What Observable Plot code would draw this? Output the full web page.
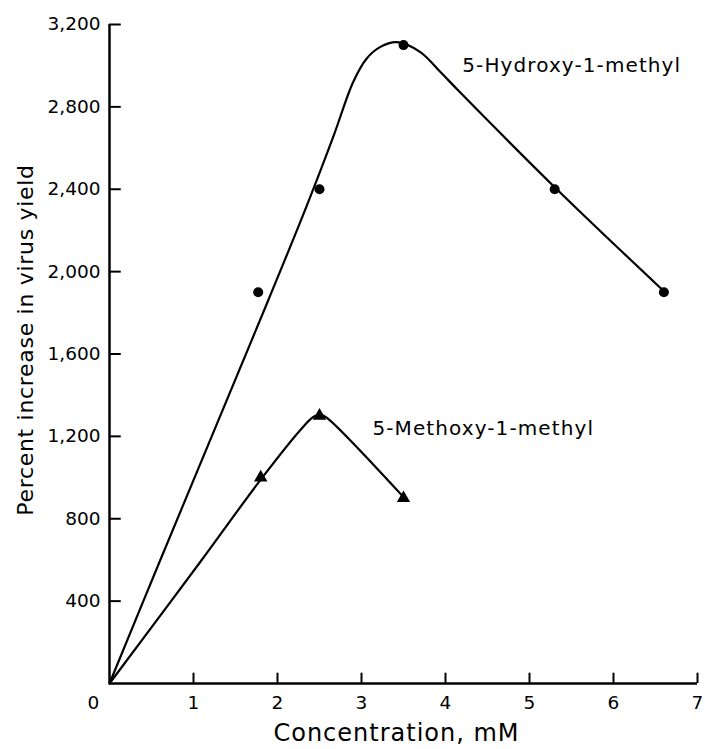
<!DOCTYPE html>
<html><head><meta charset="utf-8">
<script src="https://cdn.jsdelivr.net/npm/d3@7"></script>
<script src="https://cdn.jsdelivr.net/npm/@observablehq/plot@0.6"></script>
<style>body{margin:0;background:#fff}</style>
</head><body><div id="chart"></div>
<script>
const xTicks = [1, 2, 3, 4, 5, 6, 7];
const yTicks = [400, 800, 1200, 1600, 2000, 2400, 2800, 3200];
const xTitle = "Concentration, mM";
const yTitle = "Percent increase in virus yield";
const seriesNames = ["5-Hydroxy-1-methyl", "5-Methoxy-1-methyl"];

// measured points
const hydroxyConc = [1.77, 2.5, 3.5, 5.3, 6.6];
const hydroxyYield = [1900, 2400, 3100, 2400, 1900];
const methoxyConc = [1.8, 2.5, 3.5];
const methoxyYield = [1000, 1300, 900];

// hand-drawn fitted curves (traced)
const hydroxyCurveConc = [0, 0.6, 1.89, 2.35, 2.67, 2.9, 3.06, 3.22, 3.42, 3.7, 3.94, 4.17, 5.3, 6.6];
const hydroxyCurveYield = [0, 595, 1861, 2322, 2662, 2920, 3034, 3090, 3114, 3066, 2969, 2872, 2410, 1905];
const methoxyCurveConc = [0, 1.08, 1.8, 2.27, 2.43, 2.52, 2.6, 3.5];
const methoxyCurveYield = [0, 590, 990, 1230, 1295, 1305, 1286, 905];

// label anchors (data coordinates)
const labelConc = [4.2, 3.13];
const labelYield = [3000, 1239];

const zip = (xs, ys) => xs.map((x, i) => ({x, y: ys[i]}));
const hydroxyPts = zip(hydroxyConc, hydroxyYield);
const methoxyPts = zip(methoxyConc, methoxyYield);
const hydroxyCurve = zip(hydroxyCurveConc, hydroxyCurveYield);
const methoxyCurve = zip(methoxyCurveConc, methoxyCurveYield);
const labels = seriesNames.map((name, i) => ({name, x: labelConc[i], y: labelYield[i]}));

const font = "DejaVu Sans, sans-serif";
const fmt = d3.format(",");

const chart = Plot.plot({
  width: 705,
  height: 749,
  marginLeft: 109,
  marginRight: 8,
  marginTop: 24,
  marginBottom: 66,
  style: {fontFamily: font, color: "#000", background: "#fff"},
  x: {domain: [0, 7], axis: null},
  y: {domain: [0, 3200], axis: null},
  marks: [
    Plot.text(yTicks, {x: 0, y: d => d, text: d => fmt(d), textAnchor: "end", lineAnchor: "middle", dx: -9, fontSize: 18.5, fill: "#000"}),
    Plot.text(xTicks, {x: d => d, y: 0, text: d => String(d), textAnchor: "middle", lineAnchor: "middle", dy: 20, fontSize: 18.5, fill: "#000"}),
    Plot.text([0], {x: 0, y: 0, text: d => String(d), textAnchor: "middle", lineAnchor: "middle", dx: -16, dy: 20, fontSize: 18.5, fill: "#000"}),
    Plot.ruleY(yTicks, {y: d => d, x1: 0, x2: 0.14, strokeWidth: 2}),
    Plot.ruleX(xTicks, {x: d => d, y1: 0, y2: 50, strokeWidth: 2}),
    Plot.ruleX([0], {strokeWidth: 2.5}),
    Plot.ruleY([0], {strokeWidth: 2.5}),
    Plot.line(hydroxyCurve, {x: "x", y: "y", curve: "catmull-rom", strokeWidth: 2.2, stroke: "#000"}),
    Plot.line(methoxyCurve, {x: "x", y: "y", curve: "catmull-rom", strokeWidth: 2.2, stroke: "#000"}),
    Plot.dot(hydroxyPts, {x: "x", y: "y", r: 5, fill: "#000", symbol: "circle"}),
    Plot.dot(methoxyPts, {x: "x", y: "y", r: 5, fill: "#000", symbol: "triangle"}),
    Plot.text(labels, {x: "x", y: "y", text: "name", textAnchor: "start", lineAnchor: "middle", fontSize: 20, fill: "#000"}),
    Plot.text([xTitle], {frameAnchor: "bottom", text: d => d, textAnchor: "middle", dx: -7, dy: 50, fontSize: 24, lineAnchor: "middle", fill: "#000"}),
    Plot.text([yTitle], {frameAnchor: "left", text: d => d, textAnchor: "middle", dx: -84, dy: -14, rotate: -90, fontSize: 22, lineAnchor: "middle", fill: "#000"})
  ]
});

// typewriter-like letter spacing
d3.select(chart).selectAll("text").each(function() {
  const t = this.textContent;
  if (t === xTitle) this.style.letterSpacing = "1px";
  else if (t === yTitle) this.style.letterSpacing = "0.7px";
  else if (seriesNames.includes(t)) this.style.letterSpacing = "1.1px";
});
document.getElementById("chart").appendChild(chart);
</script>
</body></html>
